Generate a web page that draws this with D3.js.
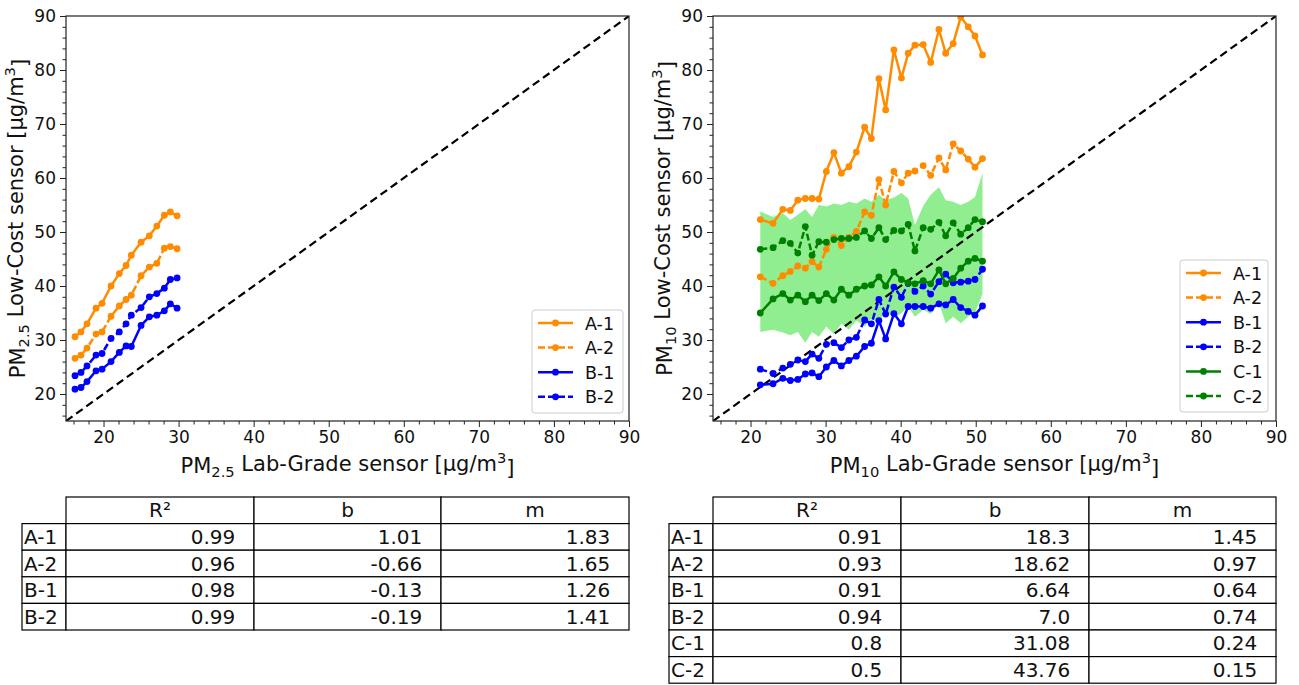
<!DOCTYPE html>
<html><head><meta charset="utf-8">
<script src="https://cdn.jsdelivr.net/npm/d3@7"></script>
<style>
body{margin:0;background:#fff;}
svg{font-family:"DejaVu Sans",sans-serif;}
</style></head><body>
<svg id="c" width="1299" height="685"></svg>
<script>
// ---------------- data ----------------
const majorTicks = [20,30,40,50,60,70,80,90];
const minorTicks = [16,18,22,24,26,28,32,34,36,38,42,44,46,48,52,54,56,58,62,64,66,68,72,74,76,78,82,84,86,88];

// PM2.5 panel
const pm25X  = [16.2,17.0,17.8,19.0,19.8,21.0,22.1,23.0,23.7,25.0,26.1,27.1,28.1,28.9,29.8];
const pm25A1 = [30.6,31.5,33.0,35.9,36.8,40.0,42.3,43.8,45.7,48.1,49.3,51.1,53.1,53.7,53.0];
const pm25A2 = [26.6,27.2,28.5,31.1,31.5,34.4,36.3,37.5,38.3,41.9,43.5,44.2,47.0,47.3,46.9];
const pm25B1 = [20.9,21.2,22.3,24.3,24.6,26.0,27.7,28.9,28.8,32.7,34.3,34.6,35.4,36.7,35.9];
const pm25B2 = [23.4,24.0,25.2,27.2,27.5,30.3,31.5,33.0,34.6,36.0,38.0,38.6,39.6,41.2,41.5];

// PM10 panel
const pm10X  = [21.3,23.0,24.3,25.3,26.3,27.3,28.2,29.1,30.1,31.1,32.1,33.1,34.1,35.2,36.1,37.1,38.0,39.1,40.1,41.0,41.9,43.0,44.0,45.1,46.0,47.0,48.0,49.0,49.9,50.9];
const pm10A1 = [52.3,51.6,54.2,54.0,55.9,56.2,56.2,56.1,61.2,64.7,60.9,62.1,64.8,69.4,67.3,78.4,72.6,83.7,78.5,83.1,84.6,84.7,81.4,87.5,83.1,84.9,89.8,88.0,86.3,82.8];
const pm10A2 = [41.7,40.5,41.9,42.7,43.7,43.3,44.5,43.5,46.8,49.0,47.5,49.0,50.1,53.7,53.1,59.7,55.0,61.2,59.1,60.9,61.3,62.3,60.5,63.7,61.5,66.3,65.0,63.5,62.0,63.6];
const pm10B1 = [21.7,21.9,22.9,22.5,22.7,23.7,23.9,23.2,25.0,26.2,25.2,26.2,27.0,28.8,29.4,33.6,30.2,34.9,33.0,36.2,36.2,36.2,35.9,36.7,36.5,37.5,36.0,35.3,34.6,36.3];
const pm10B2 = [24.6,23.8,24.8,25.5,26.3,26.0,27.4,26.6,29.2,29.5,28.6,30.0,30.5,33.7,33.0,37.5,34.8,39.8,37.9,40.5,39.0,40.0,38.5,40.8,42.2,40.6,40.7,40.9,41.2,43.1];
const pm10C1 = [35.0,37.6,38.6,37.4,38.3,37.1,38.3,37.3,38.6,37.4,39.4,38.3,39.4,40.0,40.2,41.7,40.0,42.6,41.2,40.6,40.4,41.0,40.4,43.0,40.4,41.4,43.3,44.6,45.1,44.6];
const pm10C2 = [46.8,47.1,48.4,47.9,46.1,51.0,45.7,48.2,48.1,48.6,48.8,48.8,49.0,50.2,48.8,50.8,48.6,50.3,50.2,51.4,46.5,50.8,50.5,51.8,49.3,51.7,49.6,50.8,52.3,51.9];
const pm10BandHigh = [53.8,52.8,53.5,52.2,53.2,54.2,52.8,55.0,54.7,55.3,55.0,55.6,55.3,56.2,55.6,56.9,55.9,56.4,57.2,56.2,51.3,54.8,56.9,58.3,55.9,55.6,55.0,55.6,56.5,60.9];
const pm10BandLow  = [31.5,31.9,31.4,30.9,31.5,29.5,31.5,30.6,32.5,31.1,33.0,31.9,33.6,32.5,34.0,33.1,35.6,34.0,35.0,36.2,34.3,35.6,34.8,36.8,33.1,34.3,33.1,34.3,35.0,38.5];

// legends
const seriesNames = ["A-1","A-2","B-1","B-2","C-1","C-2"];
const seriesColors = ["#ff8c00","#ff8c00","#0000ff","#0000ff","#008000","#008000"];
const seriesDashed = [false,true,false,true,false,true];

// tables
const tableHeader = ["R\u00b2","b","m"];
const pm25Rows = ["A-1","A-2","B-1","B-2"];
const pm25R2 = ["0.99","0.96","0.98","0.99"];
const pm25B  = ["1.01","-0.66","-0.13","-0.19"];
const pm25M  = ["1.83","1.65","1.26","1.41"];
const pm10Rows = ["A-1","A-2","B-1","B-2","C-1","C-2"];
const pm10R2 = ["0.91","0.93","0.91","0.94","0.8","0.5"];
const pm10B  = ["18.3","18.62","6.64","7.0","31.08","43.76"];
const pm10M  = ["1.45","0.97","0.64","0.74","0.24","0.15"];

// ---------------- drawing ----------------
const svg = d3.select("#c");
const Y0 = 16, Y1 = 421;

function subLabel(g, parts, attrs) {
  const t = g.append("text");
  Object.entries(attrs).forEach(([k,v]) => t.attr(k, v));
  parts.forEach(p => {
    const s = t.append("tspan").text(p.t);
    if (p.sub) s.attr("font-size","0.7em").attr("dy", "0.3em");
    if (p.sup) s.attr("font-size","0.7em").attr("dy", "-0.55em");
    if (p.reset) s.attr("dy", p.reset);
  });
  return t;
}

function panel(x0, x1, id, series, band, sub, legendBox) {
  const x = d3.scaleLinear().domain([15,90]).range([x0,x1]);
  const y = d3.scaleLinear().domain([15,90]).range([Y1,Y0]);
  const g = svg.append("g");

  g.append("clipPath").attr("id","clip"+id).append("rect")
    .attr("x",x0).attr("y",Y0).attr("width",x1-x0).attr("height",Y1-Y0);
  const plot = g.append("g").attr("clip-path","url(#clip"+id+")");

  if (band) {
    const area = d3.area().x((d,i)=>x(band.xs[i])).y0((d,i)=>y(band.lo[i])).y1((d,i)=>y(band.hi[i]));
    plot.append("path").datum(band.hi).attr("d",area).attr("fill","#90ee90").attr("stroke","none");
  }

  plot.append("line").attr("x1",x(15)).attr("y1",y(15)).attr("x2",x(90)).attr("y2",y(90))
    .attr("stroke","#000").attr("stroke-width",2.2).attr("stroke-dasharray","8,4.5");

  series.forEach(s => {
    const line = d3.line().x((d,i)=>x(s.xs[i])).y(d=>y(d));
    plot.append("path").datum(s.ys).attr("d",line).attr("fill","none")
      .attr("stroke",s.color).attr("stroke-width",2.5).attr("stroke-linejoin","round")
      .attr("stroke-dasharray", s.dashed ? "7,3" : null);
    plot.selectAll(null).data(s.ys).join("circle")
      .attr("cx",(d,i)=>x(s.xs[i])).attr("cy",d=>y(d)).attr("r",3.4).attr("fill",s.color);
  });

  // axes
  g.append("g").attr("transform",`translate(0,${Y1})`)
    .call(d3.axisBottom(x).tickValues(majorTicks).tickSize(6).tickPadding(4));
  g.append("g").attr("transform",`translate(0,${Y1})`)
    .call(d3.axisBottom(x).tickValues(minorTicks).tickSize(3.5).tickFormat(""));
  g.append("g").attr("transform",`translate(${x0},0)`)
    .call(d3.axisLeft(y).tickValues(majorTicks).tickSize(6).tickPadding(4));
  g.append("g").attr("transform",`translate(${x0},0)`)
    .call(d3.axisLeft(y).tickValues(minorTicks).tickSize(3.5).tickFormat(""));
  g.selectAll(".domain").remove();
  g.selectAll(".tick line").attr("stroke","#222");
  g.selectAll(".tick text").attr("font-size",17).attr("fill","#111")
    .attr("font-family","DejaVu Sans");

  g.append("rect").attr("x",x0).attr("y",Y0).attr("width",x1-x0).attr("height",Y1-Y0)
    .attr("fill","none").attr("stroke","#222").attr("stroke-width",1.2);

  // axis labels
  subLabel(g, [{t:"PM"},{t:sub,sub:true},{t:" Lab-Grade sensor [\u00b5g/m",reset:"-0.3em"},{t:"3",sup:true},{t:"]",reset:"0.55em"}],
    {x:(x0+x1)/2, y:473, "text-anchor":"middle", "font-size":21, fill:"#111"});
  subLabel(g, [{t:"PM"},{t:sub,sub:true},{t:" Low-Cost sensor [\u00b5g/m",reset:"-0.3em"},{t:"3",sup:true},{t:"]",reset:"0.55em"}],
    {transform:`translate(${x0-41},${(Y0+Y1)/2}) rotate(-90)`, "text-anchor":"middle", "font-size":21, fill:"#111"});

  // legend
  const L = legendBox;
  g.append("rect").attr("x",L.x).attr("y",L.y).attr("width",L.w).attr("height",L.h)
    .attr("rx",3).attr("fill","#fff").attr("fill-opacity",0.85).attr("stroke","#cccccc");
  series.forEach((s,i) => {
    const yy = L.y + 13 + i*24.6;
    g.append("line").attr("x1",L.x+6).attr("x2",L.x+41).attr("y1",yy).attr("y2",yy)
      .attr("stroke",s.color).attr("stroke-width",2.5).attr("stroke-dasharray", s.dashed ? "7,3" : null);
    g.append("circle").attr("cx",L.x+23.5).attr("cy",yy).attr("r",3.4).attr("fill",s.color);
    g.append("text").attr("x",L.x+53).attr("y",yy+6.5).attr("font-size",17.5).attr("fill","#111").text(s.name);
  });
}

function mkSeries(xs, arrs, n) {
  return arrs.slice(0,n).map((ys,i) => ({xs, ys, name:seriesNames[i], color:seriesColors[i], dashed:seriesDashed[i]}));
}

panel(66, 629, "L", mkSeries(pm25X, [pm25A1,pm25A2,pm25B1,pm25B2], 4), null, "2.5",
  {x:532, y:310, w:91, h:103});
panel(713, 1276, "R", mkSeries(pm10X, [pm10A1,pm10A2,pm10B1,pm10B2,pm10C1,pm10C2], 6),
  {xs:pm10X, hi:pm10BandHigh, lo:pm10BandLow}, "10",
  {x:1180, y:260, w:88, h:152});

// tables
function table(xLab, cols, rows, r2, b, m) {
  const g = svg.append("g");
  const top = 497, rh = 26.6, fs = 20;
  const colVals = [r2, b, m];
  for (let c = 0; c < 3; c++) {
    g.append("rect").attr("x",cols[c]).attr("y",top).attr("width",cols[c+1]-cols[c]).attr("height",rh)
      .attr("fill","#fff").attr("stroke","#000").attr("stroke-width",1.2);
    g.append("text").attr("x",(cols[c]+cols[c+1])/2).attr("y",top+rh/2+7).attr("text-anchor","middle")
      .attr("font-size",fs).attr("fill","#111").text(tableHeader[c]);
  }
  rows.forEach((r,i) => {
    const yy = top + rh*(i+1);
    g.append("rect").attr("x",xLab).attr("y",yy).attr("width",cols[0]-xLab).attr("height",rh)
      .attr("fill","#fff").attr("stroke","#000").attr("stroke-width",1.2);
    g.append("text").attr("x",xLab+2).attr("y",yy+rh/2+7).attr("font-size",fs).attr("fill","#111").text(r);
    for (let c = 0; c < 3; c++) {
      const w = cols[c+1]-cols[c];
      g.append("rect").attr("x",cols[c]).attr("y",yy).attr("width",w).attr("height",rh)
        .attr("fill","#fff").attr("stroke","#000").attr("stroke-width",1.2);
      g.append("text").attr("x",cols[c+1]-0.1*w).attr("y",yy+rh/2+7).attr("text-anchor","end")
        .attr("font-size",fs).attr("fill","#111").text(colVals[c][i]);
    }
  });
}
table(22, [66,254,441,629], pm25Rows, pm25R2, pm25B, pm25M);
table(669, [713,901,1089,1276], pm10Rows, pm10R2, pm10B, pm10M);
</script>
</body></html>
